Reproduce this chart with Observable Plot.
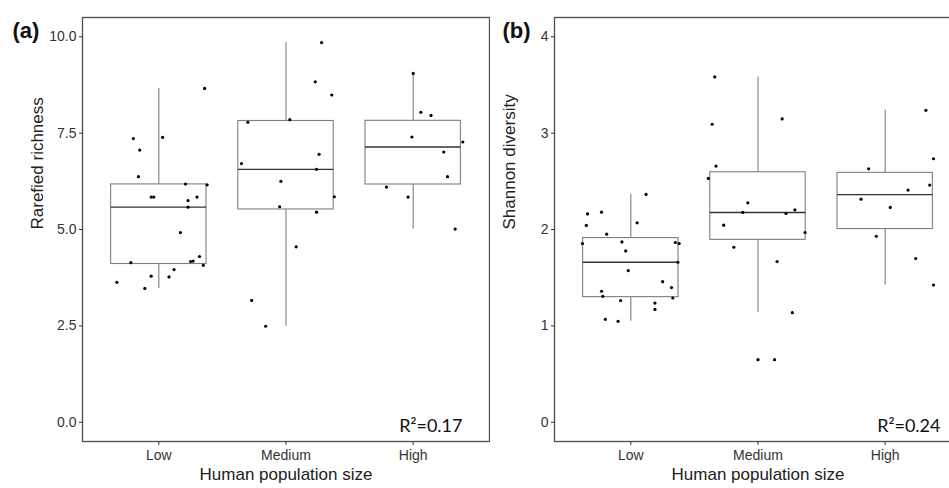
<!DOCTYPE html>
<html><head><meta charset="utf-8">
<script src="https://cdn.jsdelivr.net/npm/d3@7"></script>
<script src="https://cdn.jsdelivr.net/npm/@observablehq/plot@0.6"></script>
<style>
body{margin:0;background:#fff;}
#wrap{position:relative;width:949px;height:488px;overflow:hidden;background:#fff;}
#wrap > div{position:absolute;top:0;height:488px;}
#wrap svg{max-width:none !important;}
</style></head><body>
<div id="wrap"><div id="pa" style="left:0px;width:490px"></div><div id="pb" style="left:490px;width:477px"></div></div>
<script>
// Categories (x axis)
const categories = ["Low", "Medium", "High"];

// Panel (a): Rarefied richness, points per category, with horizontal jitter (in category units)
const richLow = [8.66,7.36,7.39,7.06,6.37,6.18,6.16,5.84,5.84,5.84,5.75,5.58,4.92,4.30,4.18,4.17,4.14,4.07,3.96,3.79,3.77,3.63,3.47];
const richLowJitter = [0.36,-0.20,0.03,-0.15,-0.16,0.21,0.38,-0.06,-0.04,0.30,0.23,0.23,0.17,0.32,0.27,0.25,-0.22,0.35,0.12,-0.06,0.08,-0.33,-0.11];
const richMedium = [9.85,8.83,8.49,7.85,7.78,6.95,6.71,6.56,6.25,5.85,5.59,5.45,4.55,3.16,2.49];
const richMediumJitter = [0.28,0.23,0.36,0.03,-0.30,0.26,-0.35,0.24,-0.04,0.38,-0.05,0.24,0.08,-0.27,-0.16];
const richHigh = [9.05,8.04,7.96,7.40,7.27,7.01,6.37,6.10,5.84,5.01];
const richHighJitter = [0.00,0.06,0.14,-0.01,0.39,0.24,0.27,-0.21,-0.04,0.33];

// Panel (b): Shannon diversity
const shanLow = [2.364,2.162,2.180,2.042,2.069,1.951,1.854,1.871,1.865,1.854,1.778,1.660,1.574,1.459,1.397,1.359,1.307,1.289,1.262,1.237,1.171,1.068,1.047];
const shanLowJitter = [0.12,-0.34,-0.23,-0.35,0.05,-0.19,-0.38,-0.07,0.35,0.38,-0.04,0.37,-0.02,0.25,0.32,-0.23,-0.22,0.33,-0.08,0.19,0.19,-0.20,-0.10];
const shanMedium = [3.583,3.092,3.147,2.658,2.530,2.277,2.177,2.166,2.204,2.045,1.969,1.816,1.667,1.137,0.649];
const shanMediumJitter = [-0.34,-0.36,0.19,-0.33,-0.39,-0.08,-0.12,0.22,0.29,-0.27,0.37,-0.19,0.15,0.27,0.13];
const shanHigh = [3.237,2.734,2.630,2.461,2.409,2.315,2.229,1.930,1.699,1.424];
const shanHighJitter = [0.32,0.38,-0.13,0.35,0.18,-0.19,0.04,-0.07,0.24,0.38];

// Axis ticks and annotations
const richTicks = [0, 2.5, 5, 7.5, 10];
const shanTicks = [0, 1, 2, 3, 4];
const richR2 = "R\u00B2=0.17";
const shanR2 = "R\u00B2=0.24";

function boxStats(vals, i) {
  const s = vals.slice().sort(d3.ascending);
  const q1 = d3.quantile(s, 0.25), med = d3.quantile(s, 0.5), q3 = d3.quantile(s, 0.75);
  const iqr = q3 - q1, lf = q1 - 1.5 * iqr, uf = q3 + 1.5 * iqr;
  const inside = s.filter(v => v >= lf && v <= uf);
  return {i, q1, med, q3, lo: d3.min(inside), hi: d3.max(inside), outliers: s.filter(v => v < lf || v > uf)};
}

function panel({groups, jitters, yDomain, ticks, tickFormat, yTitle, tag, r2, width, marginLeft, marginRight, tagDx, r2Dx}) {
  const boxes = groups.map((g, k) => boxStats(g, k + 1));
  const pts = groups.flatMap((g, k) => g.map((v, j) => ({i: k + 1, v, jit: jitters[k][j]})));
  const outl = boxes.flatMap(b => b.outliers.map(v => ({i: b.i, v})));
  const boxStroke = "#7f7f7f";
  const hw = 0.375;
  return Plot.plot({
    width, height: 488,
    marginLeft, marginRight, marginTop: 17, marginBottom: 47,
    style: {background: "transparent", fontFamily: "'Liberation Sans', Arial, sans-serif", fontSize: "14px", color: "#333", maxWidth: "none"},
    x: {domain: [0.4, 3.6]},
    y: {domain: yDomain},
    marks: [
      Plot.ruleX(boxes, {x: "i", y1: "q3", y2: "hi", stroke: boxStroke, strokeWidth: 1.1}),
      Plot.ruleX(boxes, {x: "i", y1: "lo", y2: "q1", stroke: boxStroke, strokeWidth: 1.1}),
      Plot.rect(boxes, {x1: d => d.i - hw, x2: d => d.i + hw, y1: "q1", y2: "q3", fill: "white", stroke: boxStroke, strokeWidth: 1.1}),
      Plot.ruleY(boxes, {y: "med", x1: d => d.i - hw, x2: d => d.i + hw, stroke: "#333", strokeWidth: 1.4}),
      Plot.dot(outl, {x: "i", y: "v", r: 1.6, fill: "#000", stroke: null}),
      Plot.dot(pts, {x: d => d.i + d.jit, y: "v", r: 1.6, fill: "#000", stroke: null}),
      Plot.frame({stroke: "#4d4d4d", strokeWidth: 1.3}),
      Plot.axisY({ticks, tickFormat, tickSize: 3, tickPadding: 3, label: null}),
      Plot.axisX({ticks: [1, 2, 3], tickFormat: d => categories[d - 1], tickSize: 4, tickPadding: 5, label: null}),
      Plot.text([yTitle], {text: d => d, frameAnchor: "left", rotate: -90, dx: -44.5, fontSize: 17, fill: "#222"}),
      Plot.text(["Human population size"], {text: d => d, frameAnchor: "bottom", dy: 38, fontSize: 17, fill: "#222"}),
      Plot.text([tag], {text: d => d, frameAnchor: "top-left", textAnchor: "start", dx: tagDx, dy: 5, fontSize: 22, fontWeight: "bold", fill: "#111"}),
      Plot.text([r2], {text: d => d, frameAnchor: "bottom-right", textAnchor: "end", dx: r2Dx, dy: -10, lineAnchor: "bottom", fontSize: 18, fontFamily: "Lato, 'Open Sans', sans-serif", fill: "#111"})
    ]
  });
}

document.getElementById("pa").append(panel({
  groups: [richLow, richMedium, richHigh],
  jitters: [richLowJitter, richMediumJitter, richHighJitter],
  yDomain: [-0.5, 10.5], ticks: richTicks, tickFormat: d3.format(".1f"),
  yTitle: "Rarefied richness", tag: "(a)", r2: richR2,
  width: 490, marginLeft: 82, marginRight: 1, tagDx: -70, r2Dx: -27
}));
document.getElementById("pb").append(panel({
  groups: [shanLow, shanMedium, shanHigh],
  jitters: [shanLowJitter, shanMediumJitter, shanHighJitter],
  yDomain: [-0.2, 4.2], ticks: shanTicks, tickFormat: d3.format("d"),
  yTitle: "Shannon diversity", tag: "(b)", r2: shanR2,
  width: 477, marginLeft: 64, marginRight: 6, tagDx: -52, r2Dx: -21
}));
</script>
</body></html>
